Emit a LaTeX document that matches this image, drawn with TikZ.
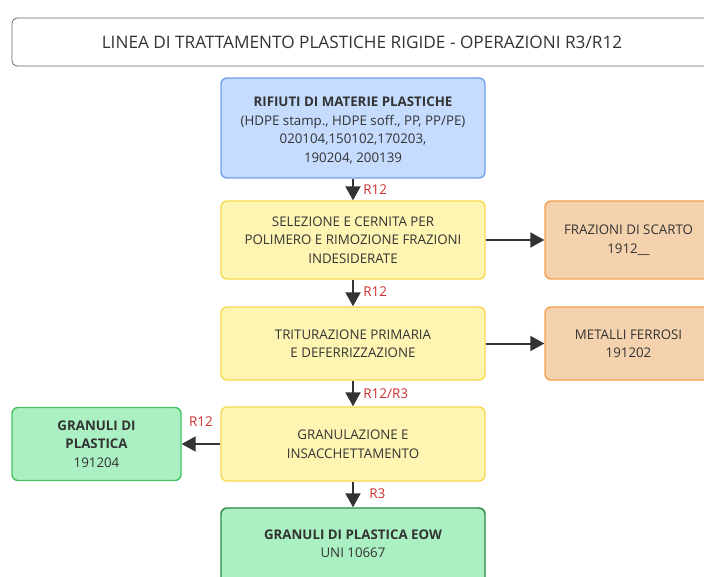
\documentclass[tikz,border=0pt]{standalone}
\usepackage{fontspec}
\setmainfont{Open Sans}
\usetikzlibrary{arrows.meta}
\definecolor{txt}{HTML}{333333}
\definecolor{rcol}{HTML}{D03030}
\definecolor{bluefill}{HTML}{C5DCFF}
\definecolor{blueline}{HTML}{6FA0E8}
\definecolor{yelfill}{HTML}{FFF5B3}
\definecolor{yelline}{HTML}{F7D94C}
\definecolor{orafill}{HTML}{F5D2AE}
\definecolor{oraline}{HTML}{F5A050}
\definecolor{grnfill}{HTML}{AAF0C2}
\definecolor{grnline}{HTML}{44C462}
\definecolor{dgrnline}{HTML}{2C8A40}
\tikzset{
  box/.style={draw, rounded corners=6pt, line width=1.4pt, align=center,
    text=txt, font=\fontsize{13.3}{18.5}\selectfont, inner sep=0pt},
  flow/.style={-{Triangle[width=15pt,length=14pt]}, line width=2pt, draw=txt},
  rlab/.style={text=rcol, font=\fontsize{13.5}{15}\selectfont}
}
\begin{document}
\begin{tikzpicture}[x=1pt,y=-1pt,line join=round]
\useasboundingbox (0,0) rectangle (704,577);
% title
\node[box, draw=gray!80!black, line width=0.8pt, rounded corners=5pt,
  minimum width=700pt, minimum height=48pt, font=\fontsize{17.2}{20}\selectfont]
  (titolo) at (362,42) {LINEA DI TRATTAMENTO PLASTICHE RIGIDE - OPERAZIONI R3/R12};
% central line
\node[box, fill=bluefill, draw=blueline, minimum width=264pt, minimum height=100pt]
  (rifiuti) at (353,128) {};
\node[text=txt, align=center, font=\fontsize{13.3}{18.5}\selectfont, inner sep=0pt]
  (rifiutitxt) at ([yshift=-2.5pt]rifiuti.center) {\textbf{RIFIUTI DI MATERIE PLASTICHE}\\(HDPE stamp., HDPE soff., PP, PP/PE)\\020104,150102,170203,\\190204, 200139};
\node[box, fill=yelfill, draw=yelline, minimum width=264pt, minimum height=78pt]
  (selezione) at (353,240) {SELEZIONE E CERNITA PER\\POLIMERO E RIMOZIONE FRAZIONI\\INDESIDERATE};
\node[box, fill=yelfill, draw=yelline, minimum width=264pt, minimum height=73pt]
  (triturazione) at (353,343.5) {TRITURAZIONE PRIMARIA\\E DEFERRIZZAZIONE};
\node[box, fill=yelfill, draw=yelline, minimum width=264pt, minimum height=74pt]
  (granulazione) at (353,444) {GRANULAZIONE E\\INSACCHETTAMENTO};
\node[box, fill=grnfill, draw=dgrnline, minimum width=264pt, minimum height=78pt]
  (eow) at (353,547) {};
\node[text=txt, align=center, font=\fontsize{13.3}{18.5}\selectfont, anchor=north, inner sep=0pt]
  (eowtxt) at ([yshift=-22pt]eow.north) {\textbf{GRANULI DI PLASTICA EOW}\\UNI 10667};
% side boxes
\node[box, fill=orafill, draw=oraline, minimum width=167pt, minimum height=78pt]
  (scarto) at (628.5,240) {FRAZIONI DI SCARTO\\1912\_\_};
\node[box, fill=orafill, draw=oraline, minimum width=167pt, minimum height=73pt]
  (metalli) at (628.5,343.5) {METALLI FERROSI\\191202};
\node[box, fill=grnfill, draw=grnline, minimum width=169pt, minimum height=73pt]
  (granuli) at (96.5,444) {\textbf{GRANULI DI}\\\textbf{PLASTICA}\\191204};
% connectors
\draw[flow] (rifiuti) -- (selezione) node[rlab, midway, right=6pt] {R12};
\draw[flow] (selezione) -- (triturazione) node[rlab, midway, right=6pt, yshift=1pt] {R12};
\draw[flow] (triturazione) -- (granulazione) node[rlab, midway, right=6pt] {R12/R3};
\draw[flow] (granulazione) -- (eow) node[rlab, midway, right=12pt, yshift=1pt] {R3};
\draw[flow] (selezione) -- (scarto);
\draw[flow] (triturazione) -- (metalli);
\draw[flow] (granulazione) -- (granuli) node[rlab, midway, above=13pt] {R12};
\end{tikzpicture}
\end{document}
